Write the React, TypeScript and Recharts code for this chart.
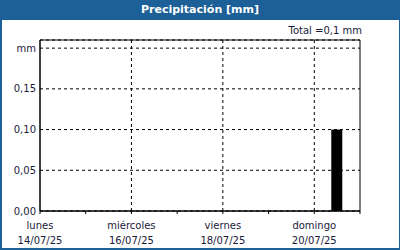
import { BarChart, Bar, XAxis, YAxis, CartesianGrid, ReferenceLine, ReferenceArea } from 'recharts';

// one entry per day of the week shown
const dayNames = ['lunes', 'martes', 'miércoles', 'jueves', 'viernes', 'sábado', 'domingo'];
const dayDates = ['14/07/25', '15/07/25', '16/07/25', '17/07/25', '18/07/25', '19/07/25', '20/07/25'];
const precipitation = [0, 0, 0, 0, 0, 0, 0.1];

const yTicks = [0, 0.05, 0.1, 0.15, 0.2];
const xTicks = [0, 1, 2, 3, 4, 5, 6, 7];
const labelledDays = [0, 2, 4, 6];

const FONT = '"DejaVu Sans", sans-serif';
const BLUE = '#1d6098';

const data = precipitation.map((mm, i) => ({ pos: i + 0.5, mm }));
const total = precipitation.reduce((a, b) => a + b, 0);

function fmt(v: number, digits: number) {
    return v.toFixed(digits).replace('.', ',');
}

function DayTick(props: any) {
    const { x, y, payload } = props;
    const idx = payload.value;
    if (!labelledDays.includes(idx)) return null;
    return (
        <g>
            <text x={x} y={y} dy={13} textAnchor="middle" fontSize={10} fontFamily={FONT} fill="#1a1a3a">
                {dayNames[idx]}
            </text>
            <text x={x} y={y} dy={28} textAnchor="middle" fontSize={10} fontFamily={FONT} fill="#1a1a3a">
                {dayDates[idx]}
            </text>
        </g>
    );
}

export default function App() {
    return (
        <div style={{ position: 'fixed', left: 0, top: 0, width: 400, height: 250, background: '#fff', fontFamily: FONT }}>
            <BarChart
                width={400}
                height={250}
                data={data}
                margin={{ top: 40, right: 40, left: 0, bottom: 0 }}
            >
                <CartesianGrid vertical={false} stroke="#000" strokeDasharray="3 3" />
                {[2, 4, 6].map((d) => (
                    <ReferenceLine key={d} x={d} stroke="#000" strokeDasharray="3 3" />
                ))}
                <XAxis
                    dataKey="pos"
                    type="number"
                    domain={[0, 7]}
                    ticks={xTicks}
                    interval={0}
                    height={39}
                    tickSize={3}
                    tickMargin={2}
                    axisLine={{ stroke: '#000' }}
                    tickLine={{ stroke: '#000' }}
                    tick={<DayTick />}
                />
                <YAxis
                    type="number"
                    domain={[0, 0.21]}
                    ticks={yTicks}
                    interval={0}
                    width={40}
                    tickSize={0}
                    tickMargin={4}
                    axisLine={{ stroke: '#000' }}
                    tickLine={false}
                    tick={{ fontSize: 10, fontFamily: FONT, fill: '#1a1a3a' }}
                    tickFormatter={(v: number) => (v === 0.2 ? 'mm' : fmt(v, 2))}
                />
                <ReferenceArea x1={0} x2={7} y1={0} y2={0.21} fill="none" stroke="#000" />
                <Bar dataKey="mm" fill="#000" barSize={11} isAnimationActive={false} />
            </BarChart>
            <div style={{ position: 'absolute', left: 0, top: 0, width: 400, height: 20, background: BLUE, color: '#fff', fontWeight: 'bold', fontSize: 11, lineHeight: '20px', textAlign: 'center' }}>
                Precipitación [mm]
            </div>
            <div style={{ position: 'absolute', right: 38, top: 25, fontSize: 10, color: '#1a1a3a' }}>
                Total ={fmt(total, 1)} mm
            </div>
            <div style={{ position: 'absolute', left: 0, top: 0, width: 400, height: 250, boxSizing: 'border-box', borderLeft: `2px solid ${BLUE}`, borderRight: `1px solid ${BLUE}`, borderBottom: `2px solid ${BLUE}`, pointerEvents: 'none' }} />
        </div>
    );
}
